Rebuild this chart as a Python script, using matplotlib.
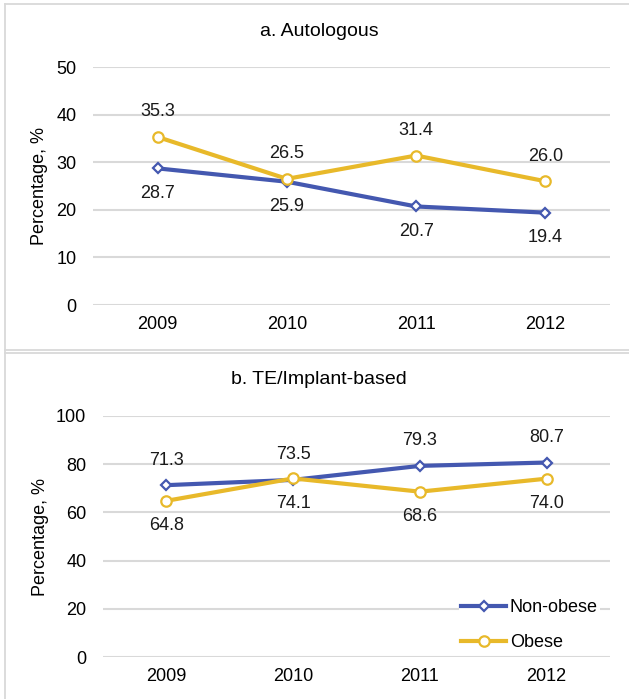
import matplotlib
matplotlib.use("Agg")
import matplotlib.pyplot as plt
from matplotlib.lines import Line2D

plt.rcParams['font.family'] = ['Liberation Sans', 'DejaVu Sans']

# Data
years = ['2009', '2010', '2011', '2012']
auto_nonobese = [28.7, 25.9, 20.7, 19.4]
auto_obese = [35.3, 26.5, 31.4, 26.0]
te_nonobese = [71.3, 73.5, 79.3, 80.7]
te_obese = [64.8, 74.1, 68.6, 74.0]

auto_yticks = [0, 10, 20, 30, 40, 50]
te_yticks = [0, 20, 40, 60, 80, 100]

BLUE = '#4458B0'
GOLD = '#E8B92A'
GRID = '#D9D9D9'
FS = 13

W, H = 629, 699
fig = plt.figure(figsize=(W / 100, H / 100), dpi=100)

# panel frames
def hline(y, x0, x1):
    fig.add_artist(Line2D([x0 / W, x1 / W], [1 - y / H, 1 - y / H],
                          color=GRID, lw=1.3, transform=fig.transFigure))

hline(4, 5, W)
hline(349.5, 5, W)
hline(352.5, 5, W)
fig.add_artist(Line2D([5 / W, 5 / W], [0, 1 - 4 / H], color=GRID, lw=1.3,
                      transform=fig.transFigure))


def style_axes(ax, yticks):
    x = range(len(years))
    ax.set_xlim(-0.5, len(years) - 0.5)
    ax.set_ylim(yticks[0], yticks[-1])
    ax.set_xticks(list(x))
    ax.set_xticklabels(years)
    ax.set_yticks(yticks)
    for s in ax.spines.values():
        s.set_visible(False)
    ax.grid(axis='y', color=GRID, lw=1.5)
    ax.set_axisbelow(True)
    ax.tick_params(axis='y', length=0, pad=12, labelsize=FS)
    ax.tick_params(axis='x', length=0, pad=8, labelsize=FS)


def draw_series(ax, vals, color, marker, ms, label, offset):
    x = list(range(len(vals)))
    ax.plot(x, vals, color=color, lw=3, marker=marker, ms=ms, mfc='white',
            mec=color, mew=1.6, label=label, zorder=3)
    for xi, v in zip(x, vals):
        ax.annotate(f'{v:.1f}', (xi, v), xytext=(0, offset),
                    textcoords='offset points', ha='center', va='center',
                    fontsize=FS, color='#1a1a1a')


# a. Autologous
ax1 = fig.add_axes([93 / W, 1 - 305 / H, 517 / W, 238 / H])
style_axes(ax1, auto_yticks)
draw_series(ax1, auto_nonobese, BLUE, 'D', 5.5, 'Non-obese', -18)
draw_series(ax1, auto_obese, GOLD, 'o', 7.5, 'Obese', 18)
ax1.set_ylabel('Percentage, %', fontsize=FS)
ax1.yaxis.set_label_coords((40 - 93) / 517, 0.5)
ax1.yaxis.label.set_va('center')
fig.text(319 / W, 1 - 32 / H, 'a. Autologous', ha='center', va='center',
         fontsize=14)

# b. TE/Implant-based
ax2 = fig.add_axes([103 / W, 1 - 657 / H, 507 / W, 241 / H])
style_axes(ax2, te_yticks)
draw_series(ax2, te_nonobese, BLUE, 'D', 5.5, 'Non-obese', 18)
draw_series(ax2, te_obese, GOLD, 'o', 7.5, 'Obese', -18)
ax2.set_ylabel('Percentage, %', fontsize=FS)
ax2.yaxis.set_label_coords((40 - 103) / 507, 0.5)
ax2.yaxis.label.set_va('center')
fig.text(319 / W, 1 - 379 / H, 'b. TE/Implant-based', ha='center',
         va='center', fontsize=14)

leg = ax2.legend(loc='center left', bbox_to_anchor=((459 - 103) / 507, 0.133),
                 borderaxespad=0, borderpad=0.12, frameon=True, fancybox=False,
                 edgecolor='none', facecolor='white', framealpha=1,
                 fontsize=FS, handlelength=2.5, handletextpad=0.2,
                 labelspacing=1.0)

fig.savefig('out.png', dpi=100)
